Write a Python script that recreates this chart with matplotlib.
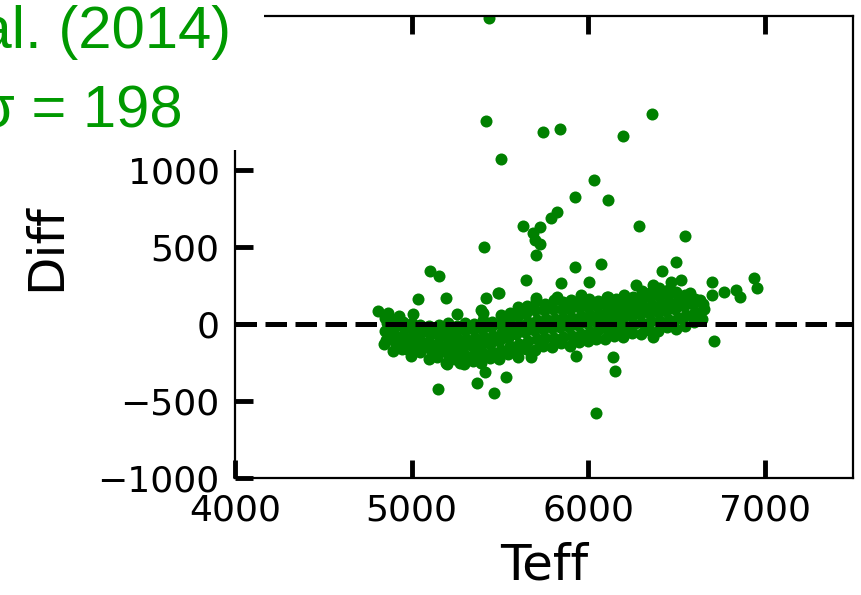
import matplotlib
matplotlib.use("Agg")
import matplotlib.pyplot as plt
from matplotlib.patches import Rectangle

# Temperature differences against Teff
core_teff = [
    4845, 4858, 4850, 4862, 4848,
    4896, 4907, 4893, 4910, 4902,
    4946, 4957, 4944, 4960, 4951,
    4996, 5008, 4993, 5010, 5002,
    5047, 5055, 5043, 5058, 5049,
    5096, 5108, 5094, 5110, 5101,
    5146, 5157, 5143, 5160, 5150, 5153,
    5197, 5208, 5192, 5210, 5199, 5204,
    5246, 5258, 5243, 5260, 5250, 5255,
    5296, 5307, 5293, 5310, 5300, 5304,
    5347, 5357, 5343, 5360, 5350, 5354,
    5396, 5408, 5393, 5410, 5401, 5405,
    5446, 5457, 5444, 5460, 5450, 5454,
    5497, 5507, 5493, 5510, 5500, 5504,
    5546, 5558, 5544, 5560, 5550, 5555,
    5597, 5607, 5593, 5610, 5600, 5603,
    5646, 5657, 5644, 5660, 5650, 5654,
    5697, 5708, 5693, 5710, 5700, 5704,
    5746, 5757, 5743, 5760, 5750, 5755,
    5797, 5807, 5794, 5810, 5800, 5804,
    5846, 5858, 5843, 5860, 5850, 5855,
    5897, 5907, 5893, 5910, 5900, 5904,
    5946, 5957, 5944, 5960, 5950, 5955,
    5997, 6008, 5993, 6010, 6000, 6004,
    6046, 6057, 6043, 6060, 6050, 6055,
    6097, 6107, 6093, 6110, 6100, 6104,
    6146, 6157, 6143, 6160, 6150, 6155,
    6197, 6207, 6193, 6210, 6200, 6204,
    6246, 6257, 6243, 6260, 6250, 6255,
    6297, 6307, 6293, 6310, 6300, 6304,
    6346, 6357, 6343, 6360, 6350, 6355,
    6397, 6407, 6393, 6410, 6400, 6404,
    6446, 6457, 6443, 6460, 6450, 6455,
    6497, 6507, 6493, 6510, 6500,
    6546, 6557, 6543, 6560, 6550,
    6597, 6607, 6593, 6604,
    6646, 6657, 6650,
]
core_diff = [
    -130, -102, -48, 5, 40,
    -175, -118, -66, -15, 28,
    -160, -130, -80, -28, 10,
    -205, -147, -95, -45, 8,
    -185, -158, -105, -55, -8,
    -230, -170, -118, -65, -12,
    -215, -185, -130, -78, -25, -5,
    -255, -195, -140, -88, -35, 5,
    -230, -200, -145, -92, -40, -10,
    -262, -205, -150, -95, -42, 9,
    -240, -198, -143, -88, -35, 0,
    -255, -192, -138, -84, -30, 24,
    -220, -183, -128, -75, -20, 15,
    -230, -168, -112, -55, 0, 58,
    -195, -145, -88, -30, 28, 70,
    -190, -128, -68, -8, 52, 108,
    -160, -112, -50, 12, 72, 120,
    -168, -100, -38, 25, 88, 148,
    -140, -92, -30, 30, 92, 130,
    -150, -88, -25, 35, 95, 153,
    -125, -82, -22, 38, 98, 140,
    -140, -78, -18, 42, 100, 158,
    -118, -64, -5, 55, 110, 145,
    -110, -52, 5, 60, 112, 163,
    -95, -42, 12, 65, 118, 150,
    -100, -33, 22, 75, 125, 173,
    -75, -22, 32, 85, 133, 160,
    -85, -12, 42, 95, 142, 188,
    -58, -3, 50, 105, 152, 175,
    -62, 8, 62, 115, 165, 213,
    -40, 18, 72, 125, 178, 205,
    -45, 22, 78, 132, 182, 233,
    -22, 28, 85, 140, 190, 220,
    -30, 42, 98, 150, 205,
    -10, 60, 115, 165, 190,
    12, 78, 128, 160,
    35, 98, 130,
]

outlier_teff = [
    5437, 5420, 5747, 5838, 6362, 6196, 5509, 6033, 5924, 6115,
    5821, 5788, 5632, 5730, 5688, 5698, 5730, 5707, 5413, 6290,
    6550, 6070, 6500, 5924, 5104, 5156, 5034, 5194, 4809, 4868,
    4930, 5009, 5258, 5424, 5490, 5396, 5405, 5368, 5415, 5147,
    5468, 5534, 5647, 5845, 6005, 5494, 5707, 5821, 5962, 6113,
    5930, 6141, 6151, 5603, 5679, 6045, 6420, 6269, 6368, 6471,
    6528, 6703, 6769, 6703, 6839, 6575, 6632, 6713, 6368, 6198,
    6862, 6937, 6958, 4877, 4972, 5198, 5273,
]
outlier_diff = [
    1985, 1318, 1245, 1264, 1362, 1219, 1069, 935, 827, 805,
    727, 686, 634, 632, 589, 545, 519, 448, 498, 636,
    570, 390, 400, 368, 346, 312, 164, 167, 86, 69,
    52, 65, 63, 167, 203, 91, 69, -385, -310, -420,
    -448, -346, 286, 264, 271, 199, 167, 177, 188, 173,
    -208, -212, -303, -212, -212, -578, 346, 253, 253, 275,
    286, 275, 210, 188, 221, 199, 156, -108, -82, -71,
    173, 301, 232, -60, -164, -260, -255,
]

x_ticks = [4000, 5000, 6000, 7000]
y_ticks = [-1000, -500, 0, 500, 1000]
label_lines = ["et al. (2014)", "σ = 198"]

W, H = 862, 595
fig = plt.figure(figsize=(W / 100, H / 100), dpi=100)
ax = fig.add_axes([235 / W, 1 - 478 / H, (853 - 235) / W, (478 - 16) / H])

ax.scatter(core_teff, core_diff, s=75, color="green", linewidths=0, zorder=2)
ax.scatter(outlier_teff, outlier_diff, s=75, color="green", linewidths=0, zorder=2)
ax.axhline(0, color="black", lw=3.6, linestyle=(0, (4.3, 1.7)), zorder=3)

ax.set_xlim(4000, 7500)
ax.set_ylim(-1000, 2000)
ax.set_xticks(x_ticks)
ax.set_yticks(y_ticks)

for sp in ax.spines.values():
    sp.set_linewidth(1.6)

ax.tick_params(axis="both", which="major", direction="in", length=13, width=3.5,
               labelsize=26, top=True, right=False)
ax.tick_params(axis="x", pad=11)
ax.tick_params(axis="y", pad=11)

ax.set_xlabel("Teff", fontsize=36, labelpad=10)
ax.set_ylabel("Diff", fontsize=36, labelpad=20)

# White panel behind the annotation in the upper-left corner
fig.patches.append(Rectangle((0, 1 - 150 / H), 264 / W, 150 / H,
                             transform=fig.transFigure, facecolor="white",
                             edgecolor="none", zorder=5))

text_color = "#009900"
fig.text(231 / W, 1 - 48 / H, label_lines[0], ha="right", va="baseline",
         fontsize=43, color=text_color, family="Liberation Sans", zorder=6)
fig.text(183 / W, 1 - 127 / H, label_lines[1], ha="right", va="baseline",
         fontsize=43, color=text_color, family="Liberation Sans", zorder=6)

fig.savefig("out.png", dpi=100)
